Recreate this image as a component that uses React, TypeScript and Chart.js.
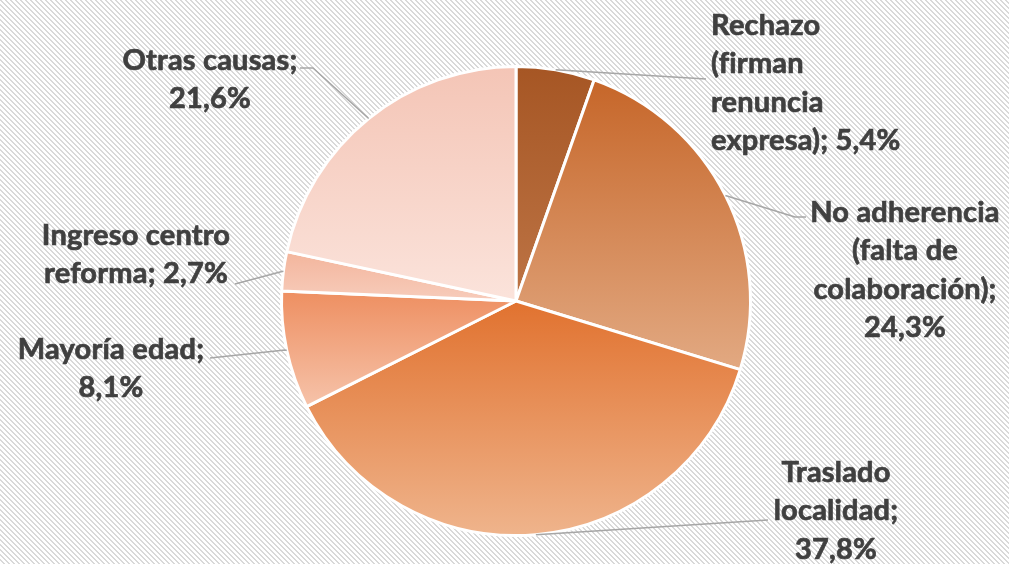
import React, { useEffect, useRef } from "react";
import { Chart, registerables } from "chart.js";

Chart.register(...registerables);

const categories: string[] = [
  "Rechazo (firman renuncia expresa)",
  "No adherencia (falta de colaboración)",
  "Traslado localidad",
  "Mayoría edad",
  "Ingreso centro reforma",
  "Otras causas",
];
const values: number[] = [5.4, 24.3, 37.8, 8.1, 2.7, 21.6];
const labelLines: string[][] = [
  ["Rechazo", "(firman", "renuncia", "expresa); 5,4%"],
  ["No adherencia", "(falta de", "colaboración);", "24,3%"],
  ["Traslado", "localidad;", "37,8%"],
  ["Mayoría edad;", "8,1%"],
  ["Ingreso centro", "reforma; 2,7%"],
  ["Otras causas;", "21,6%"],
];
const topColors: string[] = ["#a65624", "#c66629", "#e1722f", "#ee8f61", "#f3b59c", "#f4c5b6"];
const bottomColors: string[] = ["#bd7445", "#e2a982", "#efb48c", "#f6c3aa", "#f7ccbb", "#fbe3db"];

// label layout: anchor x, first baseline y, alignment, leader elbow/end points
const labelPos = [
  { x: 711, y: 35, align: "left", elbow: [706, 79], end: [706, 79] },
  { x: 905, y: 222, align: "center", elbow: [795, 217], end: [806, 217] },
  { x: 836, y: 482, align: "center", elbow: [768, 520], end: [768, 520] },
  { x: 111, y: 359, align: "center", elbow: [285, 350], end: [210, 358] },
  { x: 136, y: 245, align: "center", elbow: [280, 272], end: [235, 284] },
  { x: 210, y: 70, align: "center", elbow: [313, 68], end: [300, 68] },
];

function makePattern(): CanvasPattern | string {
  const c = document.createElement("canvas");
  c.width = 5;
  c.height = 5;
  const g = c.getContext("2d");
  if (!g) return "#eeeeee";
  g.fillStyle = "#ffffff";
  g.fillRect(0, 0, 5, 5);
  g.fillStyle = "#d9d9d9";
  for (let y = 0; y < 5; y++) {
    for (let x = 0; x < 5; x++) {
      const d = (((x - y) % 5) + 5) % 5;
      if (d < 2) g.fillRect(x, y, 1, 1);
    }
  }
  const pat = g.createPattern(c, "repeat");
  return pat || "#eeeeee";
}

export default function App() {
  const ref = useRef<HTMLCanvasElement | null>(null);
  useEffect(() => {
    document.body.style.margin = "0";
    const canvas = ref.current;
    if (!canvas) return;
    const total = values.reduce((a, b) => a + b, 0);

    const sliceGradient = (ctx: any) => {
      const chart = ctx.chart;
      const i = ctx.dataIndex;
      const area = chart.chartArea;
      const meta = chart.getDatasetMeta(0);
      const ctrl: any = meta.controller;
      if (!area || !ctrl || !ctrl.outerRadius) return topColors[i];
      const cx = (area.left + area.right) / 2 + (ctrl.offsetX || 0);
      const cy = (area.top + area.bottom) / 2 + (ctrl.offsetY || 0);
      const r = ctrl.outerRadius;
      let cum = 0;
      for (let k = 0; k < i; k++) cum += values[k];
      const a0 = -Math.PI / 2 + (cum / total) * Math.PI * 2;
      const a1 = a0 + (values[i] / total) * Math.PI * 2;
      let ymin = cy;
      let ymax = cy;
      const n = 60;
      for (let s = 0; s <= n; s++) {
        const a = a0 + ((a1 - a0) * s) / n;
        const y = cy + r * Math.sin(a);
        ymin = Math.min(ymin, y);
        ymax = Math.max(ymax, y);
      }
      const g = chart.ctx.createLinearGradient(0, ymin, 0, ymax);
      g.addColorStop(0, topColors[i]);
      g.addColorStop(1, bottomColors[i]);
      return g;
    };

    const bgPlugin = {
      id: "bgPattern",
      beforeDraw(chart: any) {
        const c = chart.ctx;
        c.save();
        c.fillStyle = makePattern();
        c.fillRect(0, 0, chart.width, chart.height);
        c.restore();
      },
    };

    const labelPlugin = {
      id: "pieLabels",
      afterDatasetsDraw(chart: any) {
        const c = chart.ctx;
        const meta = chart.getDatasetMeta(0);
        c.save();
        meta.data.forEach((arc: any, i: number) => {
          const mid = (arc.startAngle + arc.endAngle) / 2;
          const sx = arc.x + Math.cos(mid) * arc.outerRadius;
          const sy = arc.y + Math.sin(mid) * arc.outerRadius;
          const p = labelPos[i];
          c.strokeStyle = "#a6a6a6";
          c.lineWidth = 1.5;
          c.beginPath();
          c.moveTo(sx, sy);
          c.lineTo(p.elbow[0], p.elbow[1]);
          c.lineTo(p.end[0], p.end[1]);
          c.stroke();
          c.fillStyle = "#404040";
          c.strokeStyle = "#404040";
          c.lineWidth = 0.7;
          c.lineJoin = "round";
          c.font = "bold 29px Lato";
          (c as any).letterSpacing = "0.2px";
          c.textAlign = p.align as CanvasTextAlign;
          c.textBaseline = "alphabetic";
          labelLines[i].forEach((line, j) => {
            c.fillText(line, p.x, p.y + j * 38.3);
            c.strokeText(line, p.x, p.y + j * 38.3);
          });
        });
        c.restore();
      },
    };

    const chart = new Chart(canvas, {
      type: "pie",
      data: {
        labels: categories,
        datasets: [
          {
            data: values,
            backgroundColor: sliceGradient as any,
            borderColor: "#ffffff",
            borderWidth: 3,
            borderAlign: "center",
          } as any,
        ],
      },
      options: {
        responsive: false,
        animation: false,
        layout: { padding: { left: 280, right: 257, top: 65, bottom: 27 } },
        plugins: {
          legend: { display: false },
          tooltip: { enabled: false },
        },
      },
      plugins: [bgPlugin, labelPlugin],
    });
    return () => chart.destroy();
  }, []);
  return (
    <div style={{ position: "fixed", left: 0, top: 0, width: 1009, height: 564 }}>
      <canvas ref={ref} width={1009} height={564} style={{ width: 1009, height: 564 }} />
    </div>
  );
}
